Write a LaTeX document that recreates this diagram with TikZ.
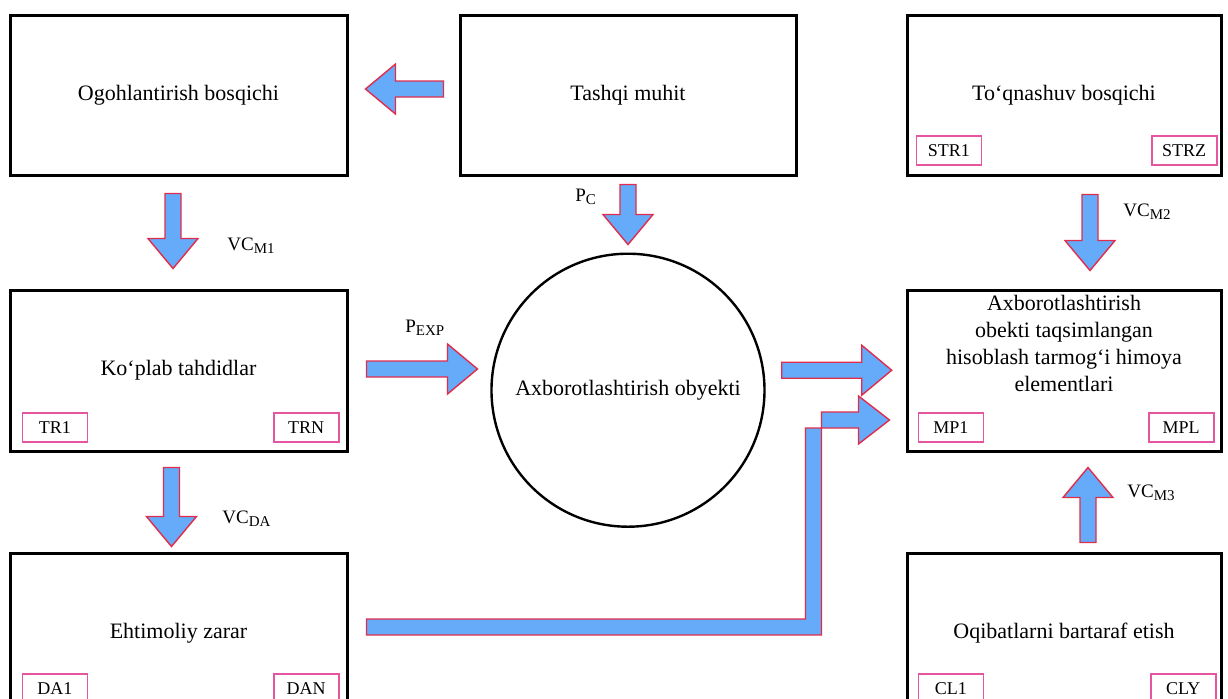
\documentclass[tikz,border=0pt]{standalone}
\usepackage{fontspec}
\setmainfont{Liberation Serif}
\usetikzlibrary{positioning,calc}

\definecolor{flowblue}{RGB}{102,170,250}
\definecolor{flowred}{RGB}{225,45,75}
\definecolor{tagpink}{RGB}{230,85,160}

\tikzset{
  box/.style={rectangle, draw, line width=1.5pt, fill=white, minimum height=80pt,
    font=\fontsize{11}{13.5}\selectfont},
  tag/.style={rectangle, draw=tagpink, line width=0.8pt, minimum width=32.5pt,
    minimum height=14.5pt, inner sep=0pt, font=\fontsize{9}{11}\selectfont},
  flow/.style={draw=flowred, fill=flowblue, line width=0.7pt, line join=miter},
  lbl/.style={inner sep=0pt, anchor=base west, font=\fontsize{9.5}{11}\selectfont}
}

% lowered index of a flow label
\newcommand{\idx}[1]{\raisebox{-0.45ex}{\fontsize{7.5}{9}\selectfont #1}}

% block arrow: tail point, direction, length
\newcommand{\flowarrow}[3]{%
  \draw[flow, shift={(#1)}, rotate=#2]
    (0,-8) -- (#3-30,-8) -- (#3-30,-25) -- (#3,0) -- (#3-30,25) -- (#3-30,8) -- (0,8) -- cycle;}

\begin{document}
\begin{tikzpicture}[x=0.5pt, y=-0.5pt]
  \useasboundingbox (0,0) rectangle (1228,698);

  % Define nodes
  \node[box, minimum width=168.5pt] (ogoh) at (178.5,95) {Ogohlantirish bosqichi};
  \node[box, minimum width=168.5pt, minimum height=80.5pt, below=56pt of ogoh] (kop) {Ko‘plab tahdidlar};
  \node[box, minimum width=168.5pt, below=49.5pt of kop] (ehtimol) {Ehtimoliy zarar};
  \node[box, minimum width=168pt, right=55pt of ogoh] (tashqi) {Tashqi muhit};
  \node[box, minimum width=157pt, right=54pt of tashqi] (toqnash) {To‘qnashuv bosqichi};
  \node[box, minimum width=157pt, minimum height=80.5pt, below=56pt of toqnash] (himoya) {};
  \node[box, minimum width=157pt, below=49.5pt of himoya] (oqibat) {Oqibatlarni bartaraf etish};
  \node[circle, draw, line width=1.2pt, minimum size=136.5pt, below=38pt of tashqi,
    font=\fontsize{11}{13.5}\selectfont] (obyekt) {Axborotlashtirish obyekti};
  \node[align=center, font=\fontsize{11}{13.5}\selectfont] (himoyatxt) at ($(himoya.center)+(0,-27)$)
    {Axborotlashtirish\\obekti taqsimlangan\\hisoblash tarmog‘i himoya\\elementlari};

  % Tags in the box corners
  \node[tag, anchor=south west] (str1) at ($(toqnash.south west)+(10,-11)$) {STR1};
  \node[tag, anchor=south east] (strz) at ($(toqnash.south east)+(-5,-11)$) {STRZ};
  \node[tag, anchor=south west] (tr1) at ($(kop.south west)+(13,-10)$) {TR1};
  \node[tag, anchor=south east] (trn) at ($(kop.south east)+(-9,-10)$) {TRN};
  \node[tag, anchor=south west] (mp1) at ($(himoya.south west)+(12,-10)$) {MP1};
  \node[tag, anchor=south east] (mpl) at ($(himoya.south east)+(-8,-10)$) {MPL};
  \node[tag, anchor=south west] (da1) at ($(ehtimol.south west)+(13,-11)$) {DA1};
  \node[tag, anchor=south east] (dan) at ($(ehtimol.south east)+(-9,-11)$) {DAN};
  \node[tag, anchor=south west] (cl1) at ($(oqibat.south west)+(12,-11)$) {CL1};
  \node[tag, anchor=south east] (cly) at ($(oqibat.south east)+(-6,-11)$) {CLY};

  % Labels of the flows
  \node[lbl] (vcm1) at (227,250) {VC\idx{M1}};
  \node[lbl] (vcda) at (222,523) {VC\idx{DA}};
  \node[lbl] (pc) at (575,201) {P\idx{C}};
  \node[lbl] (pexp) at (405,332) {P\idx{EXP}};
  \node[lbl] (vcm2) at (1123,216) {VC\idx{M2}};
  \node[lbl] (vcm3) at (1127,497) {VC\idx{M3}};

  % Connect nodes with block arrows
  \flowarrow{$(tashqi.west)+(-15,-6)$}{180}{78}
  \flowarrow{$(ogoh.south)+(-5.5,17)$}{-90}{75}
  \flowarrow{$(kop.south)+(-7,15)$}{-90}{79}
  \flowarrow{$(tashqi.south)+(0,8)$}{-90}{60}
  \flowarrow{$(kop.east)+(18,-1.5)$}{0}{111}
  \flowarrow{$(obyekt.east)+(16,-20)$}{0}{110}
  \flowarrow{$(toqnash.south)+(26,18)$}{-90}{76}
  \flowarrow{$(oqibat.north)+(24,-9)$}{90}{75}

  % Bent arrow from the damage box up to the protection box
  \coordinate (dtail) at ($(ehtimol.east)+(18,-6)$);
  \draw[flow] ($(dtail)+(0,-8)$) -- ++(439,0) -- ++(0,-191) -- ++(53,0) -- ++(0,16)
    -- ++(31,-24) -- ++(-31,-24) -- ++(0,16) -- ++(-37,0) -- ++(0,223) -- ++(-455,0) -- cycle;
\end{tikzpicture}
\end{document}
